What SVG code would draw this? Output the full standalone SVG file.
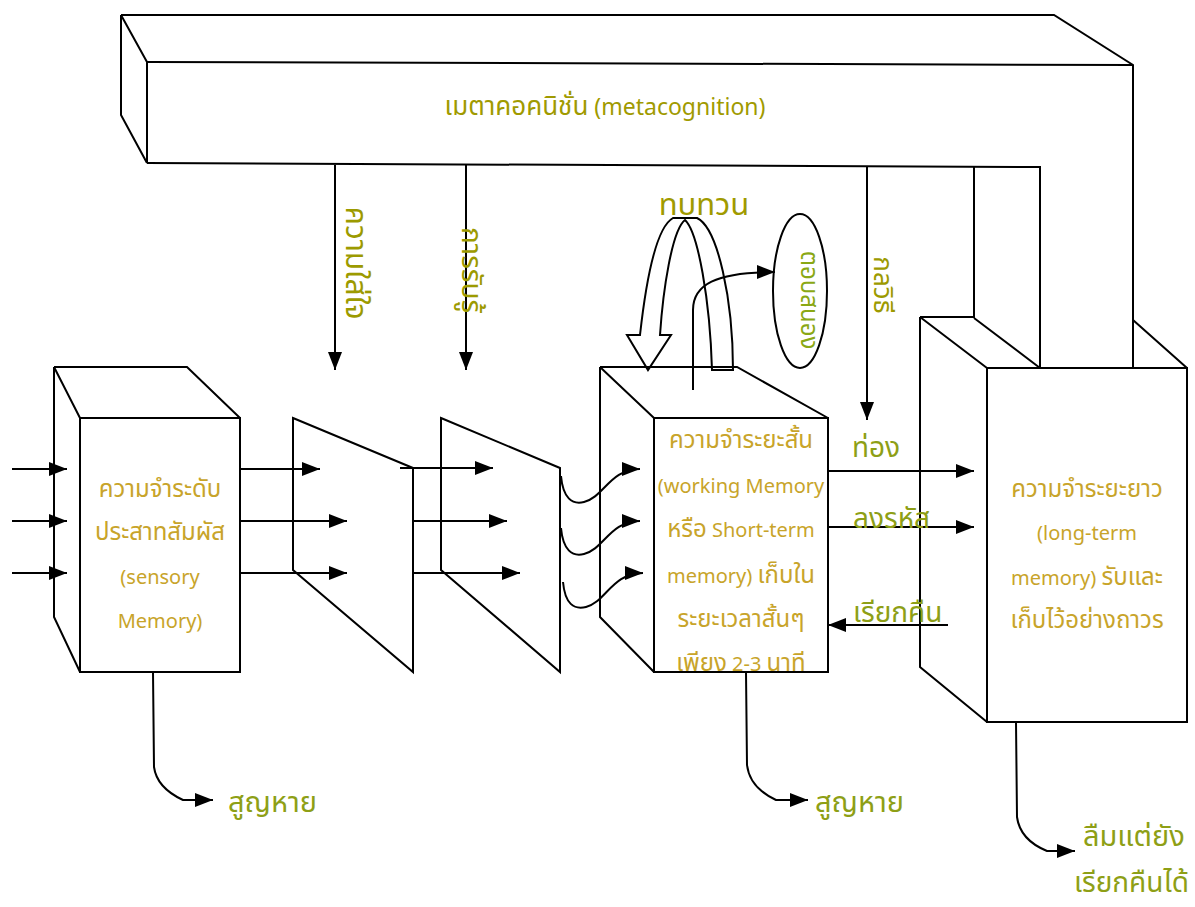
<svg xmlns="http://www.w3.org/2000/svg" width="1195" height="907" viewBox="0 0 1195 907">
<defs>
<marker id="ah" markerUnits="userSpaceOnUse" markerWidth="18" markerHeight="14" refX="18" refY="7" orient="auto">
<path d="M0,0 L18,7 L0,14 Z" fill="#000"/>
</marker>
<style>
.ln{fill:none;stroke:#000;stroke-width:2}
.face{fill:#fff;stroke:#000;stroke-width:2}
.ar{fill:none;stroke:#000;stroke-width:2;marker-end:url(#ah)}
text{font-family:"Noto Sans Thai","Noto Sans","Liberation Sans",sans-serif}
.box{fill:#C8A42A;font-size:20px;text-anchor:middle}
.th{font-size:24px}
.lbl{fill:#8E9F16;font-size:28px}
.meta{fill:#A09A00;font-size:23px;text-anchor:middle}
.vert{fill:#9C9A00;text-anchor:middle}
</style>
</defs>
<rect width="1195" height="907" fill="#fff"/>

<g id="metacognition">
<path class="ln" d="M121,15 L1054,15 L1133,65 L1133,370"/>
<path class="ln" d="M147,62 L1133,65"/>
<path class="ln" d="M121,15 L147,62 L147,163 M121,15 L121,115 L147,163"/>
<path class="ln" d="M147,163 L1040,167 L1040,370"/>
<path class="ln" d="M974,167 L974,318"/>
<text class="meta" x="605" y="115"><tspan style="font-size:26px">เมตาคอคนิชั่น</tspan> (metacognition)</text>
</g>

<g id="sensory">
<path class="ln" d="M54,367 L54,617 L80,672 M54,367 L187,367 L240,418 M54,367 L80,418"/>
<rect class="face" x="80" y="418" width="160" height="254"/>
<text class="box th" x="160" y="497">ความจำระดับ</text>
<text class="box th" x="160" y="540">ประสาทสัมผัส</text>
<text class="box" x="160" y="584">(sensory</text>
<text class="box" x="160" y="628">Memory)</text>
</g>

<g id="filter1">
<path class="ln" d="M293,418 L413,468 L413,672 L293,570 Z"/>
</g>
<g id="filter2">
<path class="ln" d="M441,418 L560,468 L560,672 L441,570 Z"/>
</g>

<g id="stm">
<path class="ln" d="M600,367 L600,617 L654,672 M600,367 L737,367 L828,418 M600,367 L654,418"/>
<rect class="face" x="654" y="418" width="174" height="254"/>
<text class="box th" x="741" y="448">ความจำระยะสั้น</text>
<text class="box" x="741" y="493">(working Memory</text>
<text class="box" x="741" y="537"><tspan class="th">หรือ</tspan> Short-term</text>
<text class="box" x="741" y="583">memory) <tspan class="th">เก็บใน</tspan></text>
<text class="box th" x="741" y="627">ระยะเวลาสั้นๆ</text>
<text class="box" x="741" y="671"><tspan class="th">เพียง</tspan> 2-3 <tspan class="th">นาที</tspan></text>
</g>

<g id="ltm">
<path class="ln" d="M920,317 L920,667 L987,722 M920,317 L974,317 M920,317 L987,368 M974,318 L1040,368 M1133,320 L1187,368"/>
<rect class="face" x="987" y="368" width="200" height="354"/>
<text class="box th" x="1087" y="497">ความจำระยะยาว</text>
<text class="box" x="1087" y="540">(long-term</text>
<text class="box" x="1087" y="585">memory) <tspan class="th">รับและ</tspan></text>
<text class="box th" x="1087" y="628">เก็บไว้อย่างถาวร</text>
</g>

<g id="rehearsal">
<path class="ln" d="M733,370 C733,300 718,228 697,218 L673,218 C655,228 645,290 640,335 L627,335 L648,370 L671,335 L660,335 C663,290 672,230 685,220 C698,232 710,300 712,370 Z"/>
<text fill="#A09A00" font-size="31" text-anchor="middle" x="704" y="215">ทบทวน</text>
</g>

<g id="response">
<ellipse class="ln" cx="800" cy="291" rx="27" ry="77"/>
<text fill="#8AA814" font-size="24" text-anchor="middle" transform="translate(801,300) rotate(90)">ตอบสนอง</text>
</g>

<g id="connectors">
<path class="ar" d="M12,469 L67,469"/>
<path class="ar" d="M12,521 L67,521"/>
<path class="ar" d="M12,573 L67,573"/>
<path class="ar" d="M240,469 L320,469"/>
<path class="ar" d="M240,521 L347,521"/>
<path class="ar" d="M240,573 L347,573"/>
<path class="ar" d="M400,468 L493,468"/>
<path class="ar" d="M413,521 L507,521"/>
<path class="ar" d="M413,573 L520,573"/>
<path class="ar" d="M561,476 C563,498 572,505 584,502 C604,497 610,469 640,469"/>
<path class="ar" d="M561,528 C563,550 572,557 584,554 C604,549 610,521 640,521"/>
<path class="ar" d="M563,582 C565,604 574,610 586,607 C606,602 612,573 643,573"/>
<path class="ar" d="M335,165 L335,370"/>
<path class="ar" d="M466,165 L466,370"/>
<path class="ar" d="M867,167 L867,420"/>
<path class="ar" d="M693,390 L693,310 C693,285 715,272 775,272"/>
<path class="ar" d="M828,471 L974,471"/>
<path class="ar" d="M828,527 L974,527"/>
<path class="ar" d="M948,625 L828,625"/>
<path class="ar" d="M153,672 L154,767 C156,782 168,793 183,800 L213,800"/>
<path class="ar" d="M746,672 L747,765 C749,782 761,793 776,800 L808,800"/>
<path class="ar" d="M1016,722 L1017,817 C1019,832 1030,844 1047,851 L1075,851"/>
</g>

<g id="labels">
<text class="vert" style="font-size:30px" transform="translate(346,263) rotate(90)">ความใส่ใจ</text>
<text class="vert" style="font-size:28px" transform="translate(462,270) rotate(90)">การรับรู้</text>
<text class="vert" style="font-size:26px" transform="translate(874,285) rotate(90)">กลวิธี</text>
<text class="lbl" x="876" y="457" text-anchor="middle">ท่อง</text>
<text class="lbl" x="853" y="528">ลงรหัส</text>
<text class="lbl" x="853" y="622">เรียกคืน</text>
<text class="lbl" style="font-size:29px" x="228" y="812">สูญหาย</text>
<text class="lbl" style="font-size:29px" x="815" y="812">สูญหาย</text>
<text class="lbl" style="font-size:29px" x="1083" y="846">ลืมแต่ยัง</text>
<text class="lbl" style="font-size:28px" x="1074" y="892">เรียกคืนได้</text>
</g>
</svg>
